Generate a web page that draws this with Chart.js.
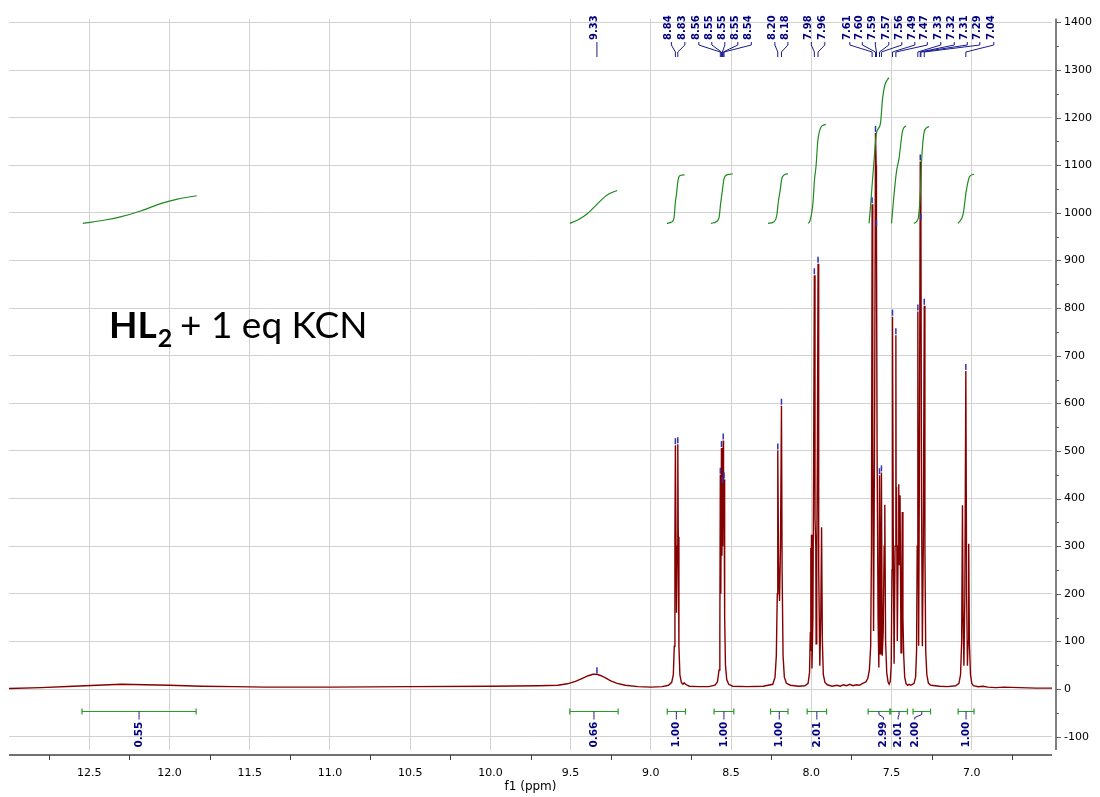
<!DOCTYPE html>
<html><head><meta charset="utf-8">
<script src="https://cdn.jsdelivr.net/npm/chart.js@4.4.1/dist/chart.umd.min.js"></script>
<style>html,body{margin:0;padding:0;background:#fff;}#wrap{width:1100px;height:797px;}</style>
</head><body><div id="wrap"><canvas id="c" width="1100" height="797"></canvas></div>
<script>
// ---- spectrum (chemical shift in ppm, intensity) ----
const shiftPpm = [
 13.00,12.80,12.60,12.45,12.30,12.15,12.00,11.80,11.60,11.40,11.00,10.50,10.00,9.70,9.58,
 9.52,9.47,9.43,9.39,9.36,9.335,9.31,9.28,9.25,9.21,9.16,9.08,9.00,8.93,8.89,
 8.870,8.860,8.854,8.850,8.847,8.843,8.840,8.836,8.832,8.829,8.825,8.819,8.810,8.800,8.792,8.784,8.76,8.70,8.64,8.60,
 8.585,8.575,8.570,8.567,8.564,8.560,8.557,8.554,8.552,8.549,8.547,8.544,8.540,8.535,8.527,8.515,8.49,8.40,8.30,
 8.240,8.226,8.218,8.212,8.209,8.204,8.198,8.192,8.186,8.182,8.176,8.168,8.155,8.13,8.08,8.04,8.020,
 8.011,8.006,8.004,8.002,7.999,7.996,7.990,7.985,7.981,7.977,7.972,7.970,7.966,7.962,7.958,7.954,7.947,7.941,7.936,7.931,7.925,7.915,7.900,
 7.87,7.84,7.82,7.80,7.78,7.76,7.74,7.72,7.70,7.68,7.66,7.648,7.638,7.630,7.625,
 7.621,7.617,7.612,7.605,7.600,7.596,7.594,7.590,7.584,7.579,7.575,7.570,7.567,7.563,7.558,7.552,7.546,7.542,7.537,7.530,7.522,7.515,7.508,
 7.502,7.497,7.494,7.489,7.484,7.478,7.473,7.471,7.469,7.464,7.459,7.455,7.451,7.447,7.441,7.436,7.433,7.429,7.424,7.418,7.410,7.400,7.390,7.380,7.370,7.360,
 7.350,7.344,7.340,7.336,7.333,7.331,7.326,7.321,7.317,7.313,7.308,7.302,7.296,7.292,7.287,7.280,7.270,7.255,
 7.20,7.15,7.10,7.080,7.070,7.063,7.058,7.054,7.049,7.043,7.037,7.032,7.027,7.023,7.019,7.015,7.008,7.000,6.990,
 6.96,6.93,6.90,6.85,6.80,6.70,6.60,6.50
];
const intensity = [
 1,3,6,8,10,9,8,6,5,4,4,5,6,7,8,
 11,16,22,28,31,31,28,23,17,12,8,5,4,5,8,
 14,30,90,320,512,300,160,300,514,320,90,30,14,10,13,10,6,5,5,8,
 15,40,120,450,200,506,280,430,300,522,350,440,150,50,20,10,6,5,6,
 10,25,70,200,501,260,185,300,595,250,70,25,12,8,6,7,12,
 35,120,296,80,324,43,150,522,869,357,300,95,274,500,893,257,49,150,340,100,30,14,9,
 6,8,6,9,7,10,7,9,8,12,15,22,40,90,300,
 1018,500,122,600,1168,1100,970,500,150,45,449,74,226,455,70,120,300,387,100,35,15,10,16,
 50,250,782,300,53,300,743,300,424,101,300,430,260,407,76,200,372,150,70,25,12,8,10,8,10,12,
 25,80,300,793,282,91,500,1108,983,400,90,300,805,300,80,30,12,8,
 6,5,7,12,30,100,386,150,49,200,668,200,49,100,305,100,30,12,7,
 5,6,4,3,4,3,2,2
];

// ---- picked peaks ----
const peakLabels = ["9.33","8.84","8.83","8.56","8.55","8.55","8.55","8.54","8.20","8.18","7.98","7.96",
 "7.61","7.60","7.59","7.57","7.56","7.49","7.47","7.33","7.32","7.31","7.29","7.04"];
const peakPpm = [9.336,8.847,8.832,8.567,8.560,8.554,8.549,8.544,8.209,8.186,7.981,7.958,
 7.621,7.600,7.594,7.575,7.563,7.494,7.473,7.336,7.321,7.317,7.296,7.037];
const peakHeight = [31,512,514,450,506,430,522,440,501,595,869,893,
 1018,1168,970,449,455,782,743,793,1108,983,805,668];

// ---- integrals ----
const integralLabels = ["0.55","0.66","1.00","1.00","1.00","2.01","2.99","2.01","2.00","1.00"];
const integralFrom = [12.545,9.505,8.898,8.606,8.254,8.026,7.646,7.505,7.366,7.085];
const integralTo   = [11.834,9.204,8.784,8.483,8.145,7.905,7.511,7.401,7.257,6.986];
const integralCurvePpm = [
 [12.54,12.40,12.30,12.18,12.05,11.95,11.83],
 [9.505,9.45,9.40,9.35,9.30,9.26,9.21],
 [8.90,8.87,8.855,8.848,8.840,8.832,8.825,8.81,8.79],
 [8.626,8.595,8.575,8.565,8.555,8.545,8.535,8.51,8.49],
 [8.27,8.235,8.215,8.205,8.195,8.185,8.175,8.16,8.146],
 [8.02,8.01,8.00,7.99,7.98,7.97,7.96,7.95,7.94,7.925,7.91],
 [7.640,7.630,7.619,7.609,7.594,7.569,7.556,7.542,7.517],
 [7.500,7.490,7.469,7.453,7.432,7.411],
 [7.361,7.335,7.320,7.313,7.293,7.266],
 [7.085,7.054,7.033,7.012,6.986]
];
const integralCurveVal = [
 [978,985,992,1004,1020,1029,1036],
 [978,986,997,1013,1030,1040,1047],
 [978,981,990,1020,1040,1065,1076,1079,1080],
 [978,981,990,1020,1045,1070,1078,1081,1082],
 [978,981,995,1025,1045,1070,1078,1081,1082],
 [978,982,995,1020,1070,1100,1150,1170,1180,1184,1186],
 [978,1018,1067,1110,1167,1188,1240,1268,1284],
 [978,1018,1087,1115,1171,1183],
 [978,987,1046,1108,1174,1181],
 [978,997,1049,1077,1081]
];

// ---- tick labels ----
const xTickValues = [12.5,12.0,11.5,11.0,10.5,10.0,9.5,9.0,8.5,8.0,7.5,7.0];
const xMinorTickValues = [12.75,12.25,11.75,11.25,10.75,10.25,9.75,9.25,8.75,8.25,7.75,7.25,6.75];
const yTickValues = [-100,0,100,200,300,400,500,600,700,800,900,1000,1100,1200,1300,1400];

// layout of the fanned-out peak label slots (ppm units) and integral label offsets
const peakLabelSlot = [9.336,8.872,8.788,8.701,8.620,8.539,8.458,8.374,8.227,8.146,8.000,7.916,
 7.760,7.682,7.601,7.517,7.436,7.355,7.277,7.193,7.109,7.028,6.950,6.863];
const integralLabelShift = [0,0,0,0,0,0,4.5,-1,-7,0]; // px

const NAVY = '#000080';
const overlay = {
  id: 'overlay',
  afterDraw(chart) {
    const ctx = chart.ctx, xs = chart.scales.x, ys = chart.scales.y, ca = chart.chartArea;
    ctx.save();
    // x axis
    const axY = ca.bottom + 5;
    ctx.strokeStyle = '#404040'; ctx.lineWidth = 1.5;
    ctx.beginPath(); ctx.moveTo(ca.left, axY); ctx.lineTo(ca.right, axY); ctx.stroke();
    ctx.lineWidth = 1; ctx.strokeStyle = '#404040';
    ctx.beginPath();
    xMinorTickValues.forEach(v => {
      const x = Math.round(xs.getPixelForValue(v)) + 0.5;
      ctx.moveTo(x, axY); ctx.lineTo(x, axY + 5);
    });
    ctx.stroke();
    // y axis
    const axX = ca.right + 4;
    ctx.strokeStyle = '#808080'; ctx.lineWidth = 2;
    ctx.beginPath(); ctx.moveTo(axX, ca.top); ctx.lineTo(axX, ca.bottom); ctx.stroke();
    ctx.lineWidth = 1; ctx.strokeStyle = '#606060';
    ctx.beginPath();
    yTickValues.forEach(v => {
      [v, v + 50].forEach((t, j) => {
        if (t < ys.min || t > ys.max) return;
        const y = Math.round(ys.getPixelForValue(t)) + 0.5;
        ctx.moveTo(axX, y); ctx.lineTo(axX + (j === 0 ? 5 : 3), y);
      });
    });
    ctx.stroke();
    // axis title
    ctx.fillStyle = '#000'; ctx.font = '12px "DejaVu Sans"';
    ctx.textAlign = 'center'; ctx.textBaseline = 'middle';
    ctx.fillText('f1 (ppm)', (ca.left + ca.right) / 2, 787);

    // peak markers
    ctx.strokeStyle = '#3232b4'; ctx.lineWidth = 1.5;
    for (let i = 0; i < peakPpm.length; i++) {
      const x = xs.getPixelForValue(peakPpm[i]);
      const y = ys.getPixelForValue(peakHeight[i]);
      ctx.beginPath(); ctx.moveTo(x, y - 1); ctx.lineTo(x, y - 7); ctx.stroke();
    }
    // peak labels with connectors
    ctx.strokeStyle = '#1a1a90'; ctx.lineWidth = 1;
    ctx.fillStyle = NAVY; ctx.font = 'bold 10px "DejaVu Sans"';
    for (let i = 0; i < peakLabels.length; i++) {
      const sx = xs.getPixelForValue(peakLabelSlot[i]);
      const px = xs.getPixelForValue(peakPpm[i]);
      ctx.beginPath();
      ctx.moveTo(sx, 42); ctx.lineTo(sx, 45); ctx.lineTo(px, 52); ctx.lineTo(px, 57);
      ctx.stroke();
      ctx.save();
      ctx.translate(sx - 2.5, 40); ctx.rotate(-Math.PI / 2);
      ctx.textAlign = 'left'; ctx.textBaseline = 'middle';
      ctx.fillText(peakLabels[i], 0, 0);
      ctx.restore();
    }
    // integral bars
    const barY = Math.round(ys.getPixelForValue(-46.5)) + 0.5;
    ctx.font = 'bold 10.5px "DejaVu Sans"';
    for (let i = 0; i < integralLabels.length; i++) {
      const x1 = xs.getPixelForValue(integralFrom[i]);
      const x2 = xs.getPixelForValue(integralTo[i]);
      ctx.strokeStyle = '#2a9a2a'; ctx.lineWidth = 1.2;
      ctx.beginPath();
      ctx.moveTo(x1, barY); ctx.lineTo(x2, barY);
      ctx.moveTo(x1, barY - 3); ctx.lineTo(x1, barY + 3);
      ctx.moveTo(x2, barY - 3); ctx.lineTo(x2, barY + 3);
      ctx.stroke();
      const cx = (x1 + x2) / 2, lx = cx + integralLabelShift[i];
      ctx.strokeStyle = '#1a1a90'; ctx.lineWidth = 1;
      ctx.beginPath();
      ctx.moveTo(cx, barY); ctx.lineTo(cx, barY + 3); ctx.lineTo(lx, barY + 6); ctx.lineTo(lx, barY + 8);
      ctx.stroke();
      ctx.save();
      ctx.translate(lx, barY + 36); ctx.rotate(-Math.PI / 2);
      ctx.textAlign = 'left'; ctx.textBaseline = 'middle';
      ctx.fillText(integralLabels[i], 0, 0);
      ctx.restore();
    }
    // sample caption
    ctx.fillStyle = '#000'; ctx.textAlign = 'left'; ctx.textBaseline = 'alphabetic';
    ctx.font = 'bold 37px Lato';
    ctx.fillText('HL', 109, 338);
    let w = ctx.measureText('HL').width;
    ctx.font = 'bold 25px Lato';
    ctx.fillText('2', 109 + w + 1, 347);
    ctx.font = '37px Lato';
    ctx.fillText('+ 1 eq KCN', 180, 338);
    ctx.restore();
  }
};

const datasets = [];
integralCurvePpm.forEach((xsArr, k) => {
  datasets.push({
    data: xsArr.map((x, i) => ({ x, y: integralCurveVal[k][i] })),
    borderColor: '#1f8a1f', borderWidth: 1.2, pointRadius: 0,
    cubicInterpolationMode: 'monotone', fill: false, order: 1
  });
});
datasets.push({
  data: shiftPpm.map((x, i) => ({ x, y: intensity[i] })),
  borderColor: '#850000', borderWidth: 1.4, pointRadius: 0, tension: 0,
  fill: false, order: 10
});

new Chart(document.getElementById('c'), {
  type: 'line',
  data: { datasets },
  options: {
    responsive: false, animation: false, devicePixelRatio: 1,
    layout: { padding: { left: 9, top: 13, right: 0, bottom: 0 } },
    plugins: { legend: { display: false }, tooltip: { enabled: false } },
    scales: {
      x: {
        type: 'linear', reverse: true, min: 6.5, max: 13.0,
        afterBuildTicks: s => { s.ticks = xTickValues.map(v => ({ value: v })); },
        afterFit: s => { s.height = 47; },
        ticks: { color: '#000', font: { family: 'DejaVu Sans', size: 11 },
          padding: 17, maxRotation: 0, autoSkip: false, callback: v => Number(v).toFixed(1) },
        grid: { color: '#d2d2d2', drawTicks: false, lineWidth: 1 },
        border: { display: false }
      },
      y: {
        position: 'right', min: -128, max: 1408,
        afterBuildTicks: s => { s.ticks = yTickValues.map(v => ({ value: v })); },
        afterFit: s => { s.width = 48; },
        ticks: { color: '#000', font: { family: 'DejaVu Sans', size: 11 },
          padding: 12, crossAlign: 'near', autoSkip: false, callback: v => String(v) },
        grid: { color: '#d2d2d2', drawTicks: false, lineWidth: 1 },
        border: { display: false }
      }
    }
  },
  plugins: [overlay]
});
</script>
</body></html>
